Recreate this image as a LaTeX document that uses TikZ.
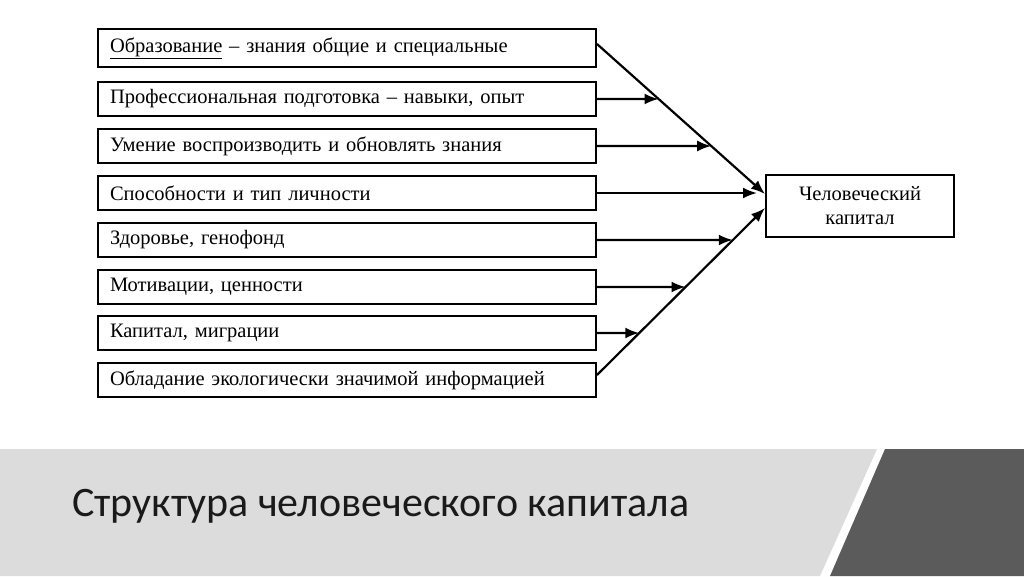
\documentclass[tikz,border=0pt]{standalone}
\usepackage{fontspec}
\setmainfont{Liberation Serif}
\newfontfamily\titlefont{Carlito}
\usetikzlibrary{calc,arrows.meta}
\definecolor{lightband}{HTML}{DCDCDC}
\definecolor{darkband}{HTML}{5B5B5B}
\definecolor{titlegray}{HTML}{1A1A1A}
\tikzset{
  itembox/.style={draw, line width=2pt, anchor=west, minimum height=34pt,
    text width=474pt, inner xsep=12pt, align=left, font=\fontsize{20.5}{23}\selectfont},
  goalbox/.style={draw, line width=2pt, minimum width=188pt, minimum height=62pt,
    align=center, font=\fontsize{20.5}{24}\selectfont},
  arr/.style={line width=2.2pt, -{Latex[length=14pt,width=11pt]}}
}
\begin{document}
\begin{tikzpicture}[x=1pt,y=-1pt]
\useasboundingbox (0,0) rectangle (1024,576);
\fill[white] (0,0) rectangle (1024,576);
% bottom bands
\fill[lightband] (0,449) -- (877,449) -- (820,576) -- (0,576) -- cycle;
\fill[darkband] (885,449) -- (1024,449) -- (1024,576) -- (830,576) -- cycle;
\node[anchor=base west, font=\titlefont\fontsize{42}{46}\selectfont, text=titlegray, inner sep=0pt] (title) at (72,516) {Структура человеческого капитала};
% boxes
\node[itembox, minimum height=38pt] (b1) at (97,48) {\underline{Образование} – знания общие и специальные};
\node[itembox] (b2) at (97,99) {Профессиональная подготовка – навыки, опыт};
\node[itembox] (b3) at (97,146) {Умение воспроизводить и обновлять знания};
\node[itembox] (b4) at (97,193) {Способности и тип личности};
\node[itembox] (b5) at (97,240) {Здоровье, генофонд};
\node[itembox] (b6) at (97,287) {Мотивации, ценности};
\node[itembox] (b7) at (97,333) {Капитал, миграции};
\node[itembox] (b8) at (97,380) {Обладание экологически значимой информацией};
\node[goalbox] (hc) at (860,206) {Человеческий\\капитал};
% connectors
\coordinate (t1) at ($(hc.west)+(0,-12)$);
\coordinate (t8) at ($(hc.west)+(0,2)$);
\coordinate (s1) at ($(b1.east)+(0,-4)$);
\coordinate (s8) at ($(b8.east)+(0,-5)$);
\draw[arr] (s1) -- (t1);
\draw[arr] (s8) -- (t8);
\draw[arr] (b2.east) -- (intersection cs: first line={(s1)--(t1)}, second line={(b2.east)--($(b2.east)+(1,0)$)});
\draw[arr] (b3.east) -- (intersection cs: first line={(s1)--(t1)}, second line={(b3.east)--($(b3.east)+(1,0)$)});
\draw[arr] (b4.east) -- ($(b4.east)+(160,0)$);
\draw[arr] (b5.east) -- (intersection cs: first line={(s8)--(t8)}, second line={(b5.east)--($(b5.east)+(1,0)$)});
\draw[arr] (b6.east) -- (intersection cs: first line={(s8)--(t8)}, second line={(b6.east)--($(b6.east)+(1,0)$)});
\draw[arr] (b7.east) -- (intersection cs: first line={(s8)--(t8)}, second line={(b7.east)--($(b7.east)+(1,0)$)});
\end{tikzpicture}
\end{document}
